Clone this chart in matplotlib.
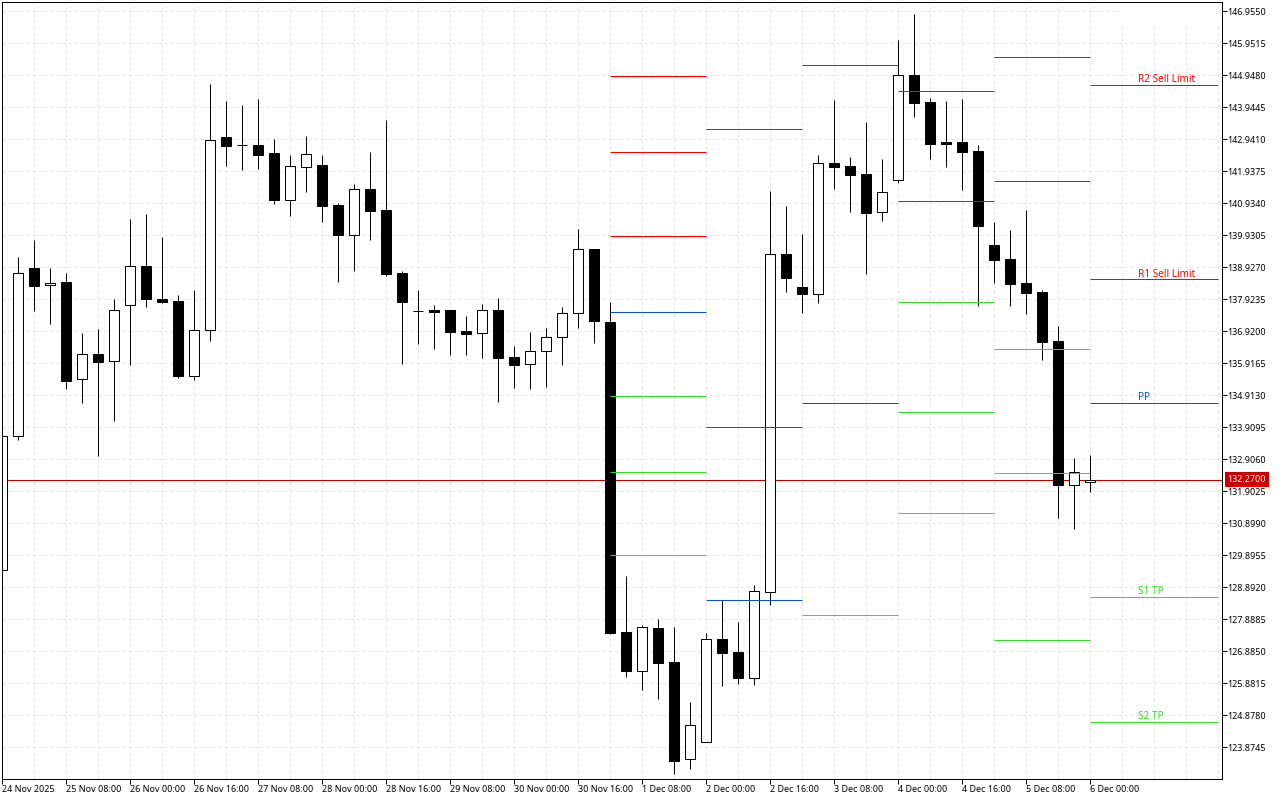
import matplotlib
matplotlib.use('Agg')
import matplotlib.pyplot as plt
from matplotlib.patches import Rectangle
from matplotlib.transforms import blended_transform_factory

plt.rcParams['font.family'] = ['Noto Sans', 'DejaVu Sans']

opens = [129.44, 133.64, 138.91, 138.38, 138.47, 135.43, 136.21, 136.00, 137.75, 138.97,
         137.94, 137.88, 135.52, 136.97, 143.02, 142.77, 142.77, 142.52, 141.04, 142.08,
         142.14, 140.89, 139.95, 141.39, 140.73, 138.75, 137.56, 137.59, 137.59, 136.94,
         136.87, 137.59, 136.12, 135.90, 136.31, 136.75, 137.50, 139.51, 137.22, 127.50,
         126.27, 127.62, 126.56, 123.51, 124.05, 127.28, 126.87, 126.05, 128.75, 139.35,
         138.32, 138.10, 142.20, 142.11, 141.86, 140.67, 141.67, 144.96, 144.12, 142.86,
         142.86, 142.58, 139.63, 139.19, 138.44, 138.16, 136.62, 132.11, 132.20]
highs = [133.83, 139.26, 139.79, 138.91, 138.75, 136.87, 137.00, 137.94, 140.45, 140.61,
         139.88, 138.06, 138.22, 144.68, 144.15, 144.02, 144.21, 142.96, 142.46, 143.05,
         142.46, 140.95, 141.55, 142.55, 143.55, 138.82, 138.22, 137.75, 137.59, 137.41,
         137.78, 137.97, 136.47, 136.90, 137.03, 137.69, 140.13, 139.51, 137.85, 129.25,
         127.72, 127.90, 127.65, 125.30, 127.47, 128.50, 127.81, 128.97, 141.33, 140.86,
         139.98, 142.46, 144.18, 142.39, 143.49, 142.33, 146.06, 146.88, 144.24, 144.15,
         144.21, 142.77, 140.35, 140.10, 140.73, 138.22, 137.09, 132.95, 133.05]
lows = [129.25, 133.52, 137.56, 137.16, 135.12, 134.68, 133.02, 134.11, 135.87, 137.69,
        137.81, 135.46, 135.40, 136.62, 142.11, 141.98, 142.02, 140.92, 140.54, 141.30,
        140.35, 138.47, 138.82, 139.79, 138.66, 135.90, 136.53, 136.37, 136.18, 136.18,
        136.09, 134.71, 135.15, 135.12, 135.18, 135.87, 137.03, 136.56, 127.43, 126.09,
        125.68, 125.40, 123.04, 123.20, 124.05, 125.80, 125.87, 125.83, 128.34, 138.16,
        137.50, 137.81, 141.39, 140.67, 138.72, 140.39, 141.58, 143.65, 142.33, 142.08,
        141.36, 137.72, 138.44, 137.72, 137.47, 136.03, 131.07, 130.73, 131.89]
closes = [133.64, 138.75, 138.35, 138.44, 135.37, 136.21, 135.96, 137.59, 138.97, 137.94,
          137.85, 135.52, 136.97, 142.93, 142.74, 142.77, 142.46, 141.04, 142.11, 142.49,
          140.86, 139.95, 141.39, 140.70, 138.72, 137.85, 137.56, 137.53, 136.90, 136.84,
          137.59, 136.09, 135.87, 136.31, 136.75, 137.50, 139.51, 137.25, 127.47, 126.27,
          127.65, 126.52, 123.45, 124.58, 127.28, 126.84, 126.05, 128.78, 139.35, 138.60,
          138.10, 142.20, 142.08, 141.83, 140.64, 141.30, 144.96, 144.09, 142.80, 142.80,
          142.55, 140.23, 139.16, 138.41, 138.13, 136.59, 132.11, 132.51, 132.27]

# pivot levels, one row per period
period_starts = [38, 44, 50, 56, 62, 68]
period_ends = [44, 50, 56, 62, 68, 76]
red_levels = [[144.93, 142.55, 139.91], [143.27, 133.92], [145.28], [144.46], [145.53], [144.65, 138.55]]
blue_levels = [[137.53], [128.50], [134.68], [141.01], [141.64], [134.68]]
green_levels = [[134.90, 132.51, 129.91], [], [128.03], [137.83, 134.38, 131.23],
                [136.37, 132.48, 127.23], [128.59, 124.67]]

level_names = ['R2 Sell Limit', 'R1 Sell Limit', 'PP', 'S1 TP', 'S2 TP']
level_prices = [144.65, 138.55, 134.68, 128.59, 124.67]
level_colors = ['#ff0000', '#ff0000', '#0a50c8', '#33dd22', '#33dd22']

y_ticks = [146.9550, 145.9515, 144.9480, 143.9445, 142.9410, 141.9375, 140.9340, 139.9305,
           138.9270, 137.9235, 136.9200, 135.9165, 134.9130, 133.9095, 132.9060, 131.9025,
           130.8990, 129.8955, 128.8920, 127.8885, 126.8850, 125.8815, 124.8780, 123.8745]
x_labels = ['24 Nov 2025', '25 Nov 08:00', '26 Nov 00:00', '26 Nov 16:00', '27 Nov 08:00',
            '28 Nov 00:00', '28 Nov 16:00', '29 Nov 08:00', '30 Nov 00:00', '30 Nov 16:00',
            '1 Dec 08:00', '2 Dec 00:00', '2 Dec 16:00', '3 Dec 08:00', '4 Dec 00:00',
            '4 Dec 16:00', '5 Dec 08:00', '6 Dec 00:00']
last_price = 132.27

px = 0.72  # one pixel in points at dpi 100
fig = plt.figure(figsize=(12.8, 8), dpi=100)
ax = fig.add_axes([1.6 / 1280, 1 - 779.1 / 800, 1220 / 1280, 777 / 800])
ax.set_xlim(0, 76.25)
ax.set_ylim(122.875, 147.241)

ax.set_xticks(range(0, 72, 4))
ax.set_xticklabels(x_labels, ha='left')
ax.set_xticks(range(0, 77, 2), minor=True)
ax.set_yticks(y_ticks)
ax.set_yticklabels(['%.4f' % v for v in y_ticks])
ax.yaxis.tick_right()
ax.tick_params(axis='both', which='major', length=5 * px, width=px, labelsize=9 * px, pad=px)
ax.tick_params(axis='x', which='minor', length=0)
ax.tick_params(axis='x', pad=px)
ax.grid(True, which='both', color='#e6e6e6', lw=px, linestyle=(0, (3, 3)), zorder=0)
ax.set_axisbelow(True)
for s in ax.spines.values():
    s.set_linewidth(px)
    s.set_zorder(10)

# the blank patch at the top right
ax.add_patch(Rectangle((0.9168, 0.971), 0.0832, 0.029, transform=ax.transAxes,
                       facecolor='white', edgecolor='none', zorder=1))

ax.axhline(last_price, color='#c00000', lw=px, zorder=2)

for i in range(len(opens)):
    ax.vlines(i, lows[i], highs[i], color='black', lw=px, zorder=3)
    up = closes[i] >= opens[i] and closes[i] != opens[i]
    ax.bar(i, closes[i] - opens[i], bottom=opens[i], width=10 / 16,
           facecolor='white' if up else 'black', edgecolor='black', lw=px, zorder=4)

for p in range(len(period_starts)):
    for levels, col in [(red_levels[p], '#ff0000'), (blue_levels[p], '#0a50c8'), (green_levels[p], '#33dd22')]:
        for v in levels:
            ax.hlines(v, period_starts[p], period_ends[p], color=col, lw=px, zorder=5)

for name, v, col in zip(level_names, level_prices, level_colors):
    ax.annotate(name, (71, v), xytext=(0, 5 * px), textcoords='offset points',
                color=col, fontsize=10 * px, va='center', ha='left', zorder=6)

trans = blended_transform_factory(ax.transAxes, ax.transData)
ax.text(1 + 6 / 1220, last_price, '%.4f' % last_price, transform=trans, color='white',
        fontsize=9 * px, va='center', ha='left', clip_on=False, zorder=7,
        bbox=dict(facecolor='#cc0000', edgecolor='none', pad=2))

fig.savefig('out.png', dpi=100)
